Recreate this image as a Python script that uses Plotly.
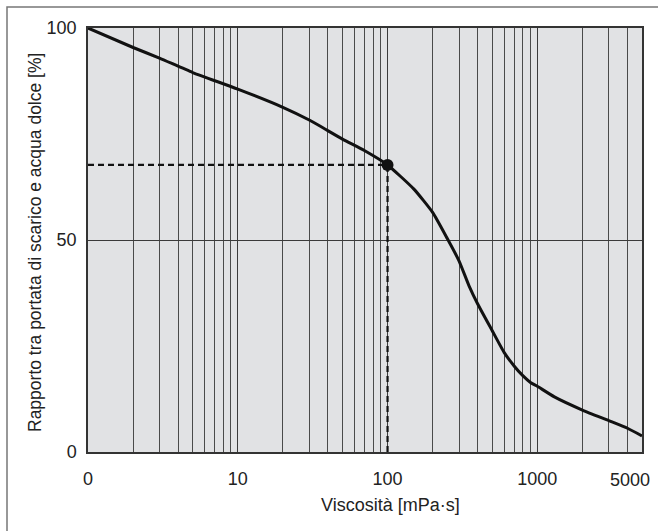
import plotly.graph_objects as go

# Data
viscosity = [1, 2, 3, 5, 10, 20, 30, 50, 70, 100, 150, 200, 250, 300, 350, 400, 500, 600, 700, 800, 900, 1000, 1300, 2000, 3000, 4000, 5000]
flow_ratio = [100, 95.4, 92.9, 89.5, 85.6, 81.3, 78.3, 73.8, 71.1, 67.7, 62.0, 56.5, 50.4, 45.1, 39.2, 34.9, 28.6, 23.5, 20.3, 18.0, 16.4, 15.5, 13.0, 9.9, 7.4, 5.6, 3.8]

op_x = 100
op_y = 67.7

x_tickvals = [1, 10, 100, 1000]
x_ticktext = ["0", "10", "100", "1000"]
x_end_tickvals = [5000]
x_end_ticktext = ["5000"]
y_tickvals = [0, 50, 100]
x_gridvals = [m * d for d in (1, 10, 100) for m in range(2, 10)] + [2000, 3000, 4000]

title_text = "Caratteristica di viscosità"
x_title = "Viscosità [mPa·s]"
y_title = "Rapporto tra portata di scarico e acqua dolce [%]"

W, H = 658, 531
ML, MR, MT, MB = 88, 16, 28, 79
pw, ph = W - ML - MR, H - MT - MB

def px_x(px):
    return (px - ML) / pw

def px_y(py):
    return (H - MB - py) / ph

fig = go.Figure()

fig.add_trace(go.Scatter(x=[viscosity[0], op_x], y=[op_y, op_y], mode="lines",
                         line=dict(color="#111", width=2.2, dash="6px,4px"),
                         hoverinfo="skip", showlegend=False))
fig.add_trace(go.Scatter(x=[op_x, op_x], y=[0, op_y], mode="lines",
                         line=dict(color="#111", width=2.2, dash="6px,4px"),
                         hoverinfo="skip", showlegend=False))

fig.add_trace(go.Scatter(x=viscosity, y=flow_ratio, mode="lines",
                         line=dict(color="#111", width=3, shape="spline", smoothing=0.5),
                         showlegend=False))

fig.add_trace(go.Scatter(x=[op_x], y=[op_y], mode="markers", xaxis="x2",
                         marker=dict(color="#111", size=12),
                         showlegend=False))

FONT = "Liberation Sans, Arial, sans-serif"
font_main = dict(family=FONT, size=18, color="#222")

fig.update_layout(
    width=W, height=H,
    margin=dict(l=ML, r=MR, t=MT, b=MB, autoexpand=False),
    paper_bgcolor="white",
    plot_bgcolor="#e1e2e4",
    font=font_main,
    xaxis=dict(
        type="log", range=[0, 3.69897],
        tickmode="array", tickvals=x_tickvals, ticktext=x_ticktext,
        showgrid=True, gridcolor="#3a3a3a", gridwidth=1,
        minor=dict(tickmode="array", tickvals=x_gridvals, showgrid=True,
                   gridcolor="#4a4a4a", gridwidth=1, ticklen=0),
        showline=True, linecolor="#333", linewidth=1.5, mirror=True,
        ticks="", ticklabelstandoff=10, zeroline=False,
        tickfont=font_main,
    ),
    xaxis2=dict(
        type="log", range=[0, 3.69897], overlaying="x", anchor="y", side="bottom",
        tickmode="array", tickvals=x_end_tickvals, ticktext=x_end_ticktext,
        showgrid=False, showline=False, ticks="", zeroline=False,
        ticklabelstandoff=15, ticklabelshift=-12, ticklabeloverflow="allow",
        tickfont=font_main,
    ),
    yaxis=dict(
        range=[0, 100],
        tickmode="array", tickvals=y_tickvals,
        showgrid=True, gridcolor="#3a3a3a", gridwidth=1,
        showline=True, linecolor="#333", linewidth=1.5, mirror=True,
        ticks="", ticklabelstandoff=6, zeroline=False,
        tickfont=font_main,
    ),
    shapes=[
        dict(type="rect", xref="paper", yref="paper",
             x0=px_x(7), x1=px_x(W + 4), y0=px_y(H + 4), y1=px_y(7),
             line=dict(color="#777", width=1.5), fillcolor="rgba(0,0,0,0)", layer="below"),
    ],
    annotations=[
        dict(text=x_title, xref="paper", yref="paper", x=px_x(390), y=px_y(505),
             showarrow=False, font=font_main, xanchor="center", yanchor="middle"),
        dict(text=y_title, xref="paper", yref="paper", x=px_x(35), y=px_y(243),
             showarrow=False, font=dict(family=FONT, size=17.5, color="#222"),
             textangle=-90, xanchor="center", yanchor="middle"),
        dict(text="<b>" + title_text + "</b>", xref="paper", yref="paper", x=px_x(10), y=px_y(4),
             showarrow=False, font=dict(family=FONT, size=18, color="#555"),
             xanchor="left", yanchor="bottom"),
    ],
)

fig.write_html("out.html", config={"displayModeBar": False},
               post_script="document.body.style.margin='0';document.body.style.padding='0';")
